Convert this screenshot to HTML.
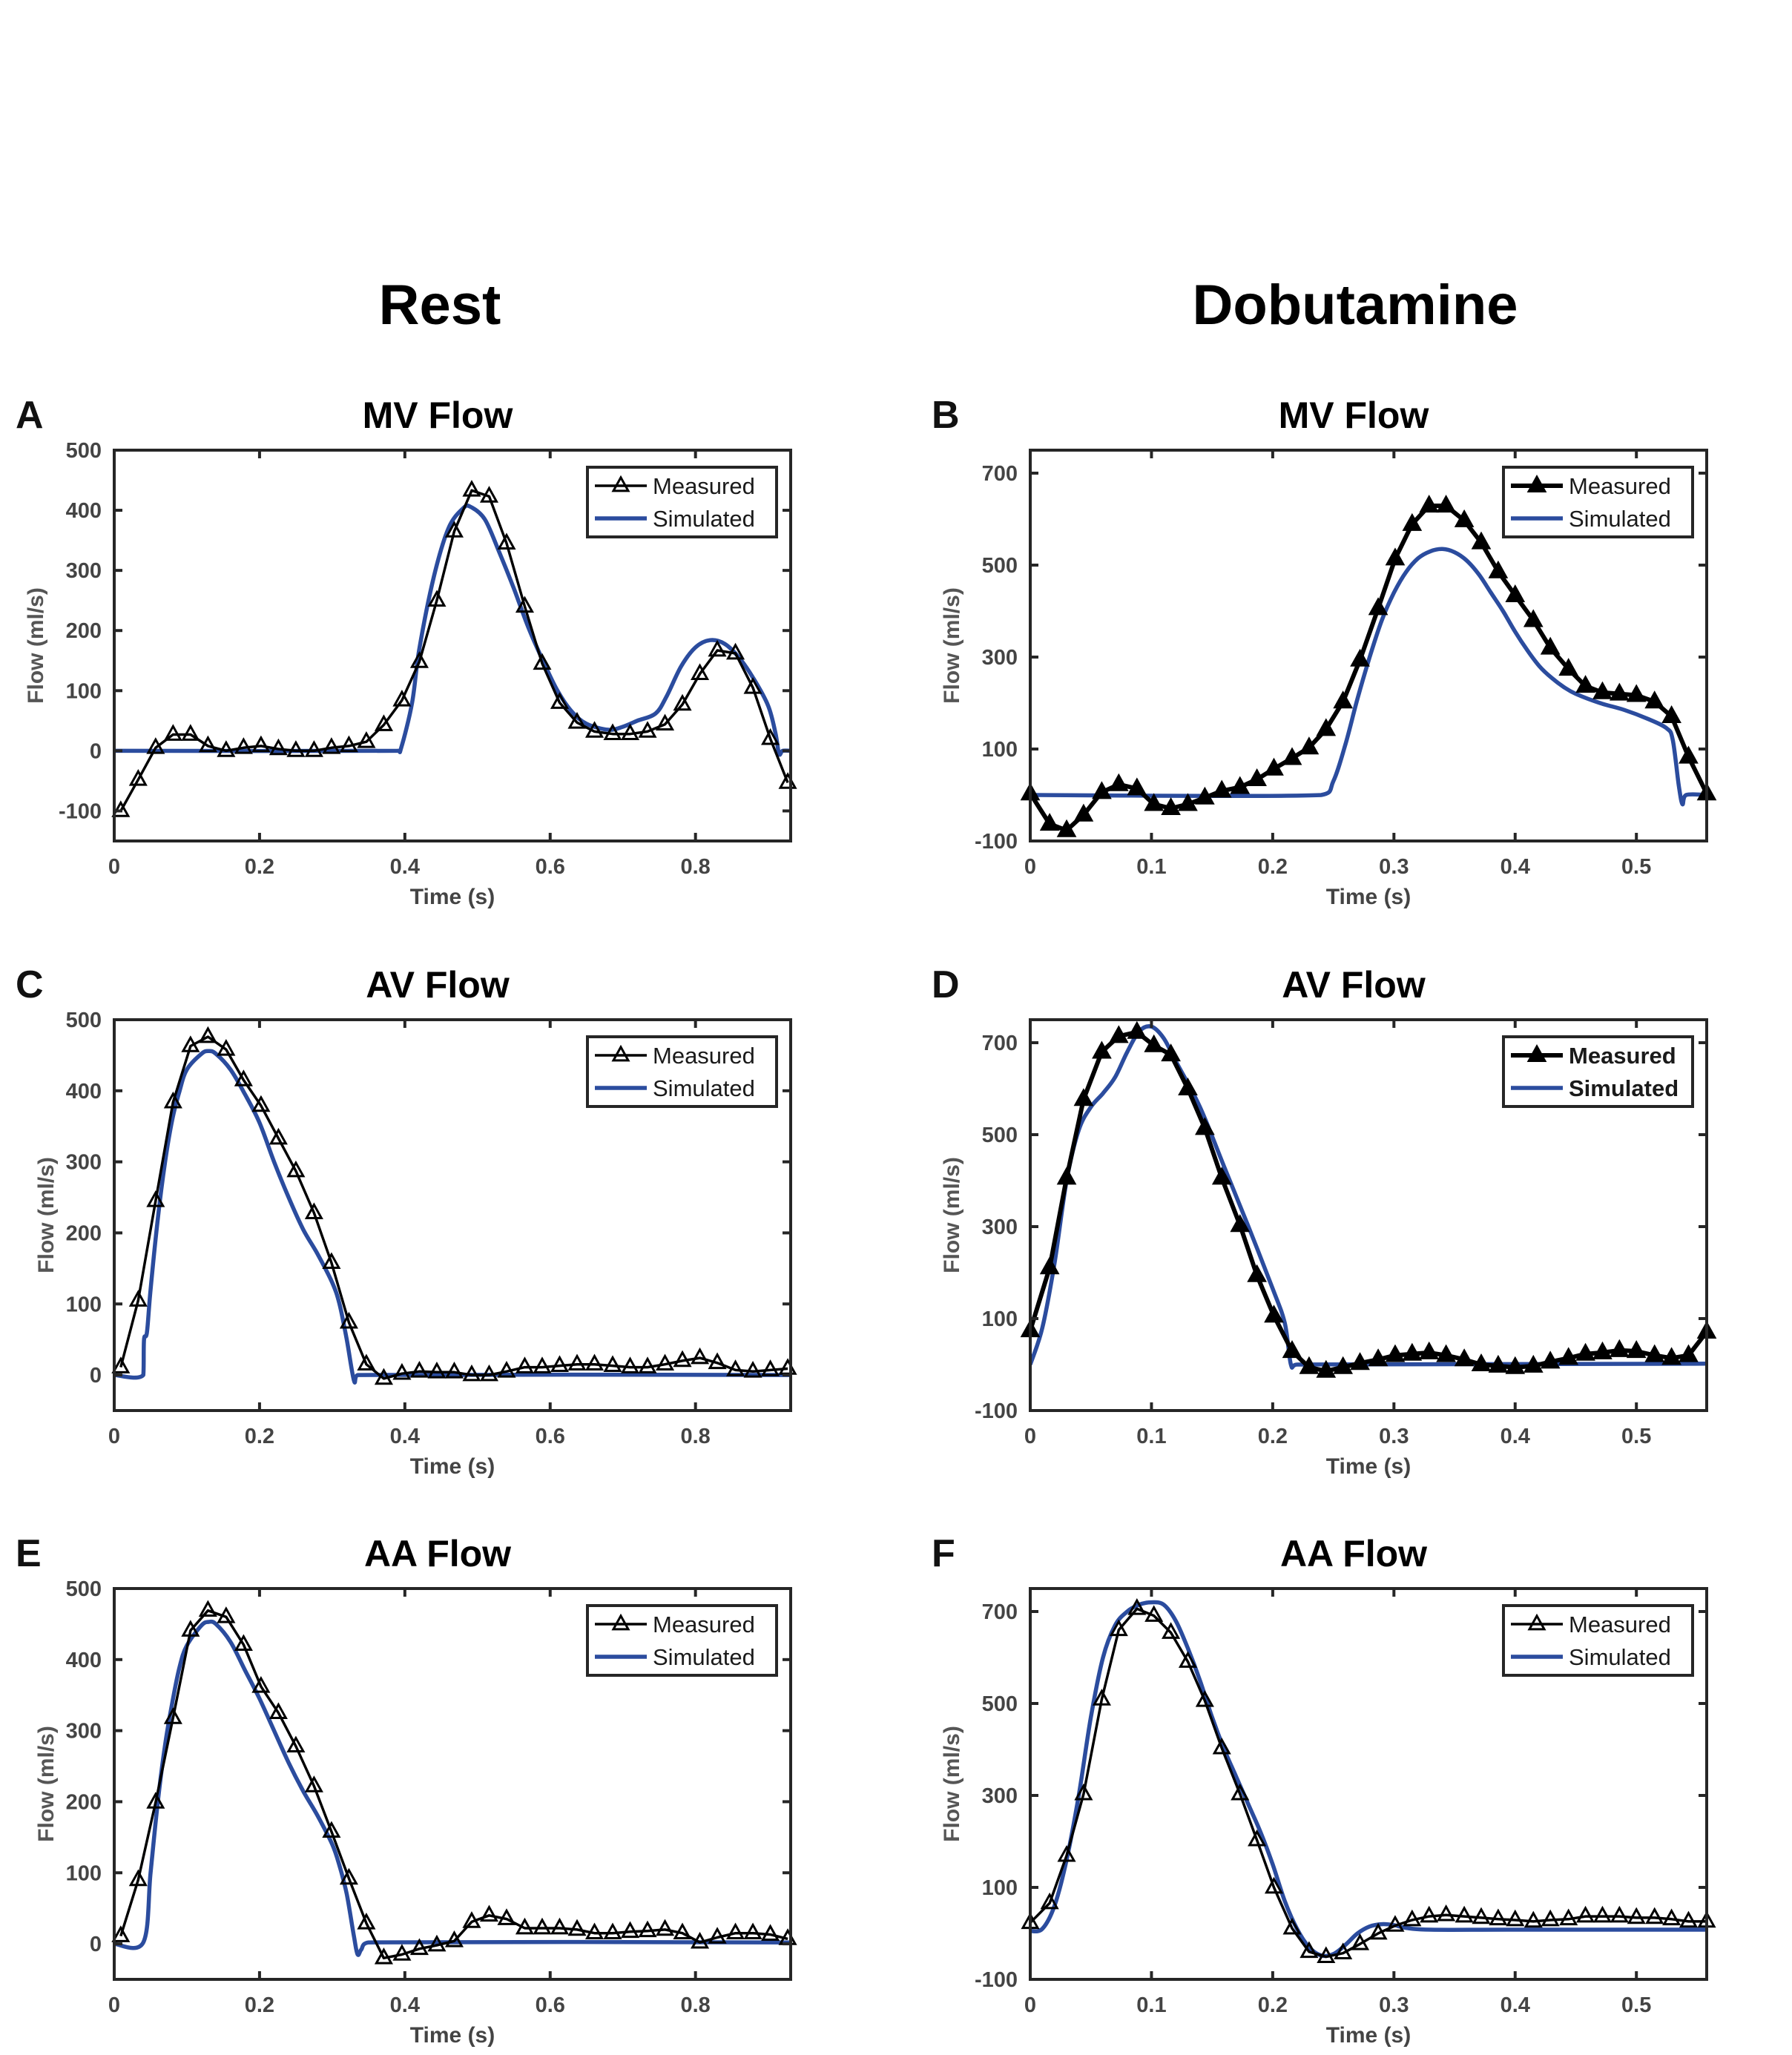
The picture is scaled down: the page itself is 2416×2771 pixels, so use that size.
<!DOCTYPE html>
<html><head><meta charset="utf-8">
<style>
html,body{margin:0;padding:0;background:#fff;}
svg{display:block;font-family:"Liberation Sans",Arial,sans-serif;}
</style></head>
<body>
<svg id="fig" width="2416" height="2771" viewBox="0 0 2416 2771" xmlns="http://www.w3.org/2000/svg">
<rect width="2416" height="2771" fill="#fff"/>
<text x="593" y="437" font-size="76" font-weight="bold" text-anchor="middle">Rest</text>
<text x="1827" y="437" font-size="76" font-weight="bold" text-anchor="middle">Dobutamine</text>
<g id="panels"></g>
</svg>
<script>
// ---- Data (time in s, flow in ml/s) ----
const restT = [0.009,0.033,0.057,0.081,0.105,0.129,0.154,0.178,0.202,0.226,0.250,0.275,0.299,0.323,0.347,0.371,0.396,0.420,0.444,0.468,0.492,0.516,0.540,0.565,0.589,0.613,0.637,0.661,0.686,0.710,0.734,0.758,0.782,0.806,0.830,0.855,0.879,0.903,0.927];
const dobT = [0.000,0.016,0.030,0.044,0.059,0.073,0.088,0.102,0.116,0.130,0.144,0.158,0.173,0.187,0.201,0.216,0.230,0.244,0.258,0.272,0.287,0.301,0.315,0.329,0.343,0.358,0.372,0.386,0.400,0.415,0.429,0.444,0.458,0.472,0.486,0.500,0.515,0.529,0.543,0.558];

const mvRestMeas = [-100,-48,5,27,27,8,0,5,8,3,0,0,5,8,15,43,84,148,250,365,433,423,345,240,145,80,47,32,28,28,32,44,77,128,167,162,105,20,-53];
const mvRestSimT = [0,0.39,0.395,0.41,0.42,0.44,0.46,0.48,0.49,0.51,0.53,0.55,0.57,0.59,0.61,0.63,0.65,0.68,0.70,0.72,0.745,0.76,0.78,0.80,0.82,0.84,0.86,0.88,0.90,0.91,0.915,0.92,0.931];
const mvRestSim = [0,0,5,80,170,290,370,403,406,385,330,270,205,150,100,65,45,35,40,50,62,90,140,172,184,178,155,120,75,30,-5,0,0];

const mvDobMeas = [3,-63,-77,-43,6,23,14,-20,-29,-20,-6,9,17,34,57,80,103,143,203,294,406,514,589,629,629,597,549,486,434,380,320,274,237,223,220,217,203,171,83,3];
const mvDobSimT = [0,0.24,0.25,0.26,0.27,0.28,0.29,0.30,0.31,0.32,0.33,0.34,0.35,0.36,0.37,0.38,0.39,0.40,0.41,0.42,0.43,0.44,0.45,0.47,0.49,0.51,0.525,0.53,0.535,0.538,0.541,0.558];
const mvDobSim = [0,0,30,110,210,300,380,440,485,515,530,535,528,510,480,440,400,355,315,280,255,235,220,200,185,165,145,120,20,-20,0,0];

const avRestMeas = [11,105,245,384,463,476,458,415,379,333,287,228,158,74,15,-5,2,5,4,4,0,0,5,11,11,13,15,15,13,11,11,15,20,24,17,7,5,7,9];
const avRestSimT = [0,0.04,0.041,0.045,0.05,0.06,0.07,0.08,0.09,0.10,0.12,0.13,0.14,0.16,0.18,0.20,0.22,0.24,0.26,0.28,0.30,0.31,0.32,0.33,0.335,0.931];
const avRestSim = [0,0,50,60,120,220,300,360,400,430,452,456,452,430,395,355,300,250,205,170,130,100,50,-8,0,0];

const avDobMeas = [74,211,406,577,680,714,723,694,674,600,514,406,303,194,106,29,-6,-14,-6,3,11,20,23,26,20,11,0,-3,-6,-3,6,14,23,26,31,29,20,14,20,71];
const avDobSimT = [0,0.01,0.02,0.03,0.04,0.05,0.06,0.07,0.08,0.09,0.10,0.11,0.12,0.14,0.16,0.18,0.20,0.21,0.215,0.22,0.558];
const avDobSim = [0,80,220,400,510,560,590,625,680,725,735,710,660,560,430,300,165,90,0,0,2];

const aaRestMeas = [11,90,199,318,441,469,460,421,362,325,278,222,158,92,29,-20,-15,-7,-2,4,31,40,35,22,22,22,20,15,15,17,18,20,15,2,9,15,15,13,7];
const aaRestSimT = [0,0.04,0.05,0.06,0.07,0.08,0.09,0.10,0.12,0.13,0.14,0.16,0.18,0.20,0.22,0.24,0.26,0.28,0.30,0.31,0.32,0.33,0.335,0.34,0.35,0.931];
const aaRestSim = [0,2,100,200,280,340,390,420,448,453,450,425,385,345,300,255,215,180,140,110,70,10,-15,-8,2,2];

const aaDobMeas = [23,66,169,303,509,660,706,691,654,591,506,403,303,203,100,11,-40,-51,-43,-23,0,17,29,37,40,37,34,31,29,26,29,31,37,37,37,34,34,31,26,26];
const aaDobSimT = [0,0.01,0.02,0.03,0.04,0.05,0.06,0.07,0.08,0.09,0.10,0.11,0.12,0.13,0.14,0.15,0.16,0.17,0.18,0.19,0.20,0.21,0.22,0.23,0.24,0.25,0.26,0.27,0.28,0.29,0.30,0.31,0.33,0.40,0.558];
const aaDobSim = [5,10,60,160,300,470,600,670,700,715,720,715,680,620,550,470,400,340,280,220,150,70,10,-30,-48,-45,-25,0,15,20,18,12,8,8,8];

const restXTicks = [0,0.2,0.4,0.6,0.8];
const restXTickLabels = ["0","0.2","0.4","0.6","0.8"];
const dobXTicks = [0,0.1,0.2,0.3,0.4,0.5];
const dobXTickLabels = ["0","0.1","0.2","0.3","0.4","0.5"];
const restYTicksA = [-100,0,100,200,300,400,500];
const restYTicksC = [0,100,200,300,400,500];
const dobYTicks = [-100,100,300,500,700];

const panels = [
 {id:'a',letter:'A',title:'MV Flow',L:154,T:607,col:0,xmax:0.931,ymin:-150,ymax:500,yt:restYTicksA,mt:restT,m:mvRestMeas,st:mvRestSimT,s:mvRestSim,filled:false,bold:false},
 {id:'b',letter:'B',title:'MV Flow',L:1389,T:607,col:1,xmax:0.558,ymin:-100,ymax:750,yt:dobYTicks,mt:dobT,m:mvDobMeas,st:mvDobSimT,s:mvDobSim,filled:true,bold:false},
 {id:'c',letter:'C',title:'AV Flow',L:154,T:1375,col:0,xmax:0.931,ymin:-50,ymax:500,yt:restYTicksC,mt:restT,m:avRestMeas,st:avRestSimT,s:avRestSim,filled:false,bold:false},
 {id:'d',letter:'D',title:'AV Flow',L:1389,T:1375,col:1,xmax:0.558,ymin:-100,ymax:750,yt:dobYTicks,mt:dobT,m:avDobMeas,st:avDobSimT,s:avDobSim,filled:true,bold:true},
 {id:'e',letter:'E',title:'AA Flow',L:154,T:2142,col:0,xmax:0.931,ymin:-50,ymax:500,yt:restYTicksC,mt:restT,m:aaRestMeas,st:aaRestSimT,s:aaRestSim,filled:false,bold:false},
 {id:'f',letter:'F',title:'AA Flow',L:1389,T:2142,col:1,xmax:0.558,ymin:-100,ymax:750,yt:dobYTicks,mt:dobT,m:aaDobMeas,st:aaDobSimT,s:aaDobSim,filled:false,bold:false}
];

const NS='http://www.w3.org/2000/svg';
const root=document.getElementById('panels');
function mk(tag,attrs,parent){const e=document.createElementNS(NS,tag);for(const k in attrs)e.setAttribute(k,attrs[k]);parent.appendChild(e);return e;}
function tri(x,y,sz){const h=sz*0.9;return `M${x},${y-h*0.62} L${x+sz/2},${y+h*0.38} L${x-sz/2},${y+h*0.38} Z`;}
function smooth(pts){
  let d='M'+pts[0][0].toFixed(1)+','+pts[0][1].toFixed(1);
  for(let i=0;i<pts.length-1;i++){
    const p0=pts[i-1]||pts[i],p1=pts[i],p2=pts[i+1],p3=pts[i+2]||p2;
    const k=1/6;
    let c1=[p1[0]+(p2[0]-p0[0])*k,p1[1]+(p2[1]-p0[1])*k];
    let c2=[p2[0]-(p3[0]-p1[0])*k,p2[1]-(p3[1]-p1[1])*k];
    c1[0]=Math.min(Math.max(c1[0],p1[0]),p2[0]);c2[0]=Math.min(Math.max(c2[0],p1[0]),p2[0]);
    d+='C'+c1[0].toFixed(1)+','+c1[1].toFixed(1)+' '+c2[0].toFixed(1)+','+c2[1].toFixed(1)+' '+p2[0].toFixed(1)+','+p2[1].toFixed(1);
  }
  return d;
}

panels.forEach(p=>{
  const W=912, H=527;
  const L=p.L,T=p.T,R=L+W,B=T+H;
  const xs=v=>L+v/p.xmax*W;
  const ys=v=>B-(v-p.ymin)/(p.ymax-p.ymin)*H;
  const g=mk('g',{},root);
  
  
  const cx=(L+R)/2;
  const lt=mk('text',{x:L-133,y:T-30,'font-size':52,'font-weight':'bold',fill:'#111'},g);
  lt.textContent=p.letter;
  
  
  const tt=mk('text',{x:cx-20,y:T-30,'font-size':50,'font-weight':'bold','text-anchor':'middle'},g);
  tt.textContent=p.title;
  
  
  const cp=mk('clipPath',{id:'clip'+p.id},g);
  mk('rect',{x:L,y:T,width:W,height:H},cp);
  const plot=mk('g',{'clip-path':'url(#clip'+p.id+')'},g);
  const spts=p.st.map((t,i)=>[xs(t),ys(p.s[i])]);
  const sl=mk('path',{d:smooth(spts),fill:'none',stroke:'#2b4c9e','stroke-width':5.5,'stroke-linejoin':'round'},plot);
  
  
  let md='';p.mt.forEach((t,i)=>{md+=(i?'L':'M')+xs(t).toFixed(1)+','+ys(p.m[i]).toFixed(1);});
  const lw=p.filled?6:3.5;
  const ml=mk('path',{d:md,fill:'none',stroke:'#000','stroke-width':lw,'stroke-linejoin':'round'},plot);
  
  
  p.mt.forEach((t,i)=>{
    const sz=p.filled?25:20;
    const mkr=mk('path',{d:tri(xs(t),ys(p.m[i]),sz),fill:p.filled?'#000':'none',stroke:'#000','stroke-width':p.filled?1:3,'stroke-linejoin':'miter'},g);
    
    
  });
  const box=mk('rect',{x:L,y:T,width:W,height:H,fill:'none',stroke:'#262626','stroke-width':4},g);
  
  
  const xt=p.col?dobXTicks:restXTicks, xl=p.col?dobXTickLabels:restXTickLabels;
  xt.forEach((v,i)=>{
    const x=xs(v);
    mk('line',{x1:x,y1:B,x2:x,y2:B-11,stroke:'#262626','stroke-width':4},g);
    mk('line',{x1:x,y1:T,x2:x,y2:T+11,stroke:'#262626','stroke-width':4},g);
    const tl=mk('text',{x:x,y:B+44,'font-size':29,'font-weight':'bold',fill:'#444','text-anchor':'middle'},g);
    tl.textContent=xl[i];
    
    
  });
  p.yt.forEach(v=>{
    const y=ys(v);
    mk('line',{x1:L,y1:y,x2:L+11,y2:y,stroke:'#262626','stroke-width':4},g);
    mk('line',{x1:R,y1:y,x2:R-11,y2:y,stroke:'#262626','stroke-width':4},g);
    const tl=mk('text',{x:L-17,y:y+10,'font-size':29,'font-weight':'bold',fill:'#444','text-anchor':'end'},g);
    tl.textContent=String(v);
    
    
  });
  const xlab=mk('text',{x:cx,y:B+85,'font-size':30,'font-weight':'bold',fill:'#444','text-anchor':'middle'},g);
  xlab.textContent='Time (s)';
  
  
  const yx=p.col?L-106:(p.id==='a'?48:62);
  const ylab=mk('text',{x:yx,y:(T+B)/2,'font-size':30,'font-weight':'bold',fill:'#555','text-anchor':'middle',transform:`rotate(-90 ${yx} ${(T+B)/2})`,dy:10},g);
  ylab.textContent='Flow (ml/s)';
  
  
  const lx=R-274, ly=T+23;
  const lg=mk('g',{},g);
  
  
  mk('rect',{x:lx,y:ly,width:255,height:94,fill:'#fff',stroke:'#262626','stroke-width':4},lg);
  mk('line',{x1:lx+10,y1:ly+25,x2:lx+80,y2:ly+25,stroke:'#000','stroke-width':lw},lg);
  mk('path',{d:tri(lx+45,ly+25,p.filled?25:20),fill:p.filled?'#000':'none',stroke:'#000','stroke-width':p.filled?1:3},lg);
  mk('line',{x1:lx+10,y1:ly+69,x2:lx+80,y2:ly+69,stroke:'#2b4c9e','stroke-width':5.5},lg);
  const fw=p.bold?'bold':'normal';
  const e1=mk('text',{x:lx+88,y:ly+36,'font-size':31,'font-weight':fw,fill:'#1a1a1a'},lg);
  e1.textContent='Measured';
  
  
  const e2=mk('text',{x:lx+88,y:ly+80,'font-size':31,'font-weight':fw,fill:'#1a1a1a'},lg);
  e2.textContent='Simulated';
  
  
});
</script>
</body></html>
